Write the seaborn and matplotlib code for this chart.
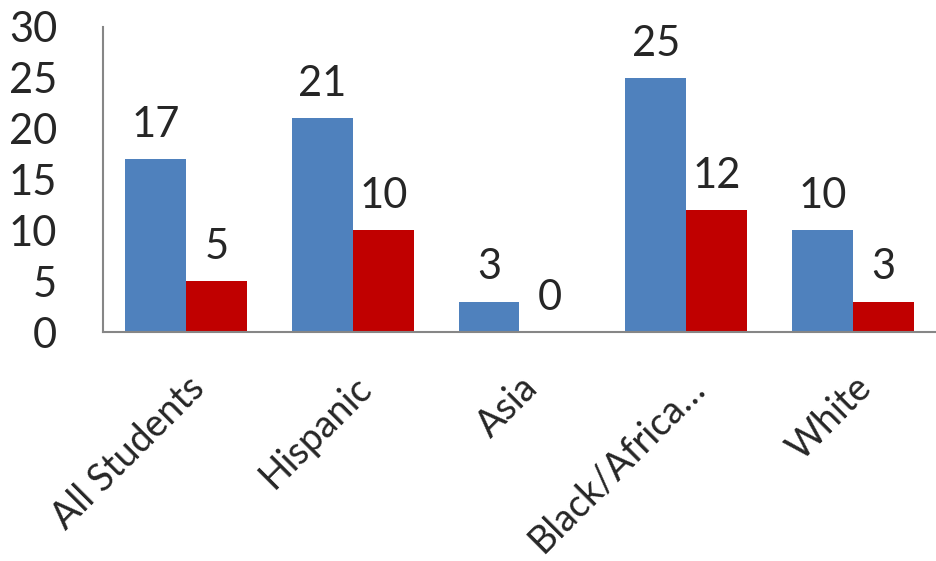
import pandas as pd
import seaborn as sns
import matplotlib.pyplot as plt

categories = ["All Students", "Hispanic", "Asia", "Black/Africa…", "White"]
series_1 = [17, 21, 3, 25, 10]
series_2 = [5, 10, 0, 12, 3]
series_names = ["Series 1", "Series 2"]
colors = ["#4F81BD", "#C00000"]

df = pd.DataFrame({
    "group": categories * 2,
    "value": series_1 + series_2,
    "series": [series_names[0]] * len(categories) + [series_names[1]] * len(categories),
})

sns.set_style("white")
plt.rcParams["font.family"] = ["Lato", "DejaVu Sans"]

fig = plt.figure(figsize=(9.36, 5.61), dpi=100)
ax = fig.add_axes([0.110, 0.408, 0.890, 0.544])

sns.barplot(data=df, x="group", y="value", hue="series", order=categories,
            hue_order=series_names, palette=colors, width=0.73,
            saturation=1, legend=False, linewidth=0, ax=ax)

for container in ax.containers:
    ax.bar_label(container, padding=11, fontsize=30)

ax.set_ylim(0, 30)
ax.set_yticks(range(0, 31, 5))
ax.set_xlim(-0.5, len(categories) - 0.5)
ax.set_xlabel("")
ax.set_ylabel("")
ax.tick_params(axis="y", length=0, pad=33, labelsize=30)
ax.tick_params(axis="x", length=0, pad=27, labelsize=27)
for lbl in ax.get_xticklabels():
    lbl.set_rotation(45)
    lbl.set_ha("right")
    lbl.set_va("top")
    lbl.set_rotation_mode("anchor")

for side in ["top", "right"]:
    ax.spines[side].set_visible(False)
for side in ["left", "bottom"]:
    ax.spines[side].set_color("#868686")
    ax.spines[side].set_linewidth(1.5)

fig.savefig("out.png", dpi=100)
